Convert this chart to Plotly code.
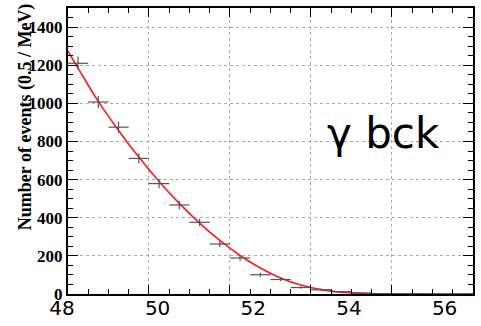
import plotly.graph_objects as go

# histogram (0.5 MeV bins)
bin_centers = [48.25, 48.75, 49.25, 49.75, 50.25, 50.75, 51.25, 51.75, 52.25, 52.75,
               53.25, 53.75, 54.25, 54.75, 55.25, 55.75, 56.25, 56.75, 57.25, 57.75]
counts = [1210, 1007, 875, 711, 579, 467, 376, 262, 189, 101,
          76, 34, 22, 12, 5, 2, 1, 1, 0, 0]
count_err = [35, 32, 30, 27, 24, 22, 19, 16, 14, 10, 9, 6, 5, 3, 2, 1, 1, 1, 0, 0]
half_bin = [0.25] * len(bin_centers)

# fitted curve
fit_x = [48.0, 48.25, 48.75, 49.25, 49.75, 50.25, 50.75, 51.25, 51.75, 52.25,
         52.75, 53.25, 53.75, 54.25, 54.75, 55.25, 55.75, 56.5, 57.5, 58.0]
fit_y = [1275, 1185, 1010, 858, 718, 590, 475, 372, 281, 202,
         136, 84, 47, 23, 10, 4, 1.5, 0.5, 0, 0]

# overlaid tick labels
label_vals = [48, 50, 52, 54, 56]
label_text = ["48", "50", "52", "54", "56"]

W, H = 481, 326
ML, MR, MT, MB = 50, 6, 8, 23
pw = W - ML - MR
ph = H - MT - MB
x_dom_left = (68 - ML) / pw
x2_dom_left = (58 - ML) / pw
px_per_unit = 48.06
x2_lo = 48 - (62 - 58) / px_per_unit
x2_hi = 48 + (475 - 62) / px_per_unit

fig = go.Figure()
fig.add_trace(go.Scatter(
    x=fit_x, y=fit_y, mode="lines", line=dict(color="#ff1a1a", width=1.6, shape="spline"),
    hoverinfo="skip", showlegend=False))
fig.add_trace(go.Scatter(
    x=bin_centers, y=counts, mode="markers", marker=dict(size=0.1, color="#444"),
    error_x=dict(type="data", array=half_bin, symmetric=True, width=0, color="#555", thickness=1.2),
    error_y=dict(type="data", array=count_err, symmetric=True, width=0, color="#555", thickness=1.2),
    showlegend=False))
fig.add_trace(go.Scatter(
    x=[label_vals[0], label_vals[-1]], y=[0, 0], xaxis="x2", yaxis="y2",
    mode="markers", marker=dict(opacity=0), hoverinfo="skip", showlegend=False))

fig.update_layout(
    width=W, height=H, margin=dict(l=ML, r=MR, t=MT, b=MB),
    paper_bgcolor="white", plot_bgcolor="rgba(0,0,0,0)",
    xaxis=dict(domain=[x_dom_left, 1], range=[48, 58], dtick=2, tick0=48, anchor="y",
               showgrid=True, gridcolor="#aaa", griddash="dot", gridwidth=1,
               showticklabels=False, ticks="inside", ticklen=9, tickcolor="black",
               showline=True, linecolor="black", linewidth=2, mirror="allticks",
               zeroline=False,
               minor=dict(dtick=0.5, ticks="inside", ticklen=5, tickcolor="black", showgrid=False)),
    yaxis=dict(range=[0, 1500], dtick=200, anchor="x", domain=[0, 1],
               showgrid=True, gridcolor="#aaa", griddash="dot", gridwidth=1,
               ticks="inside", ticklen=10, tickcolor="black",
               showline=True, linecolor="black", linewidth=2, mirror="allticks",
               zeroline=False, ticklabelstandoff=0,
               tickfont=dict(family="Liberation Serif", size=17, color="black", weight="bold"),
               minor=dict(dtick=50, ticks="inside", ticklen=5, tickcolor="black", showgrid=False)),
    xaxis2=dict(domain=[x2_dom_left, 1], range=[x2_lo, x2_hi], anchor="y2",
                tickvals=label_vals, ticktext=label_text, ticks="",
                showgrid=False, showline=False, zeroline=False,
                tickfont=dict(family="DejaVu Sans", size=20, color="black")),
    yaxis2=dict(domain=[0, 1], range=[0, 1], anchor="x2", visible=False,
                showgrid=False, zeroline=False),
    annotations=[
        dict(text="γ bck", x=55.79, y=844, xref="x", yref="y", showarrow=False,
             font=dict(family="DejaVu Sans", size=42, color="black")),
        dict(text="<b>Number of events (0.5 / MeV)</b>", x=(13 - ML) / pw, y=(303 - 120) / ph,
             xref="paper", yref="paper", showarrow=False, textangle=-90,
             font=dict(family="Liberation Serif", size=18, color="black")),
    ],
)

fig.write_html("out.html")
